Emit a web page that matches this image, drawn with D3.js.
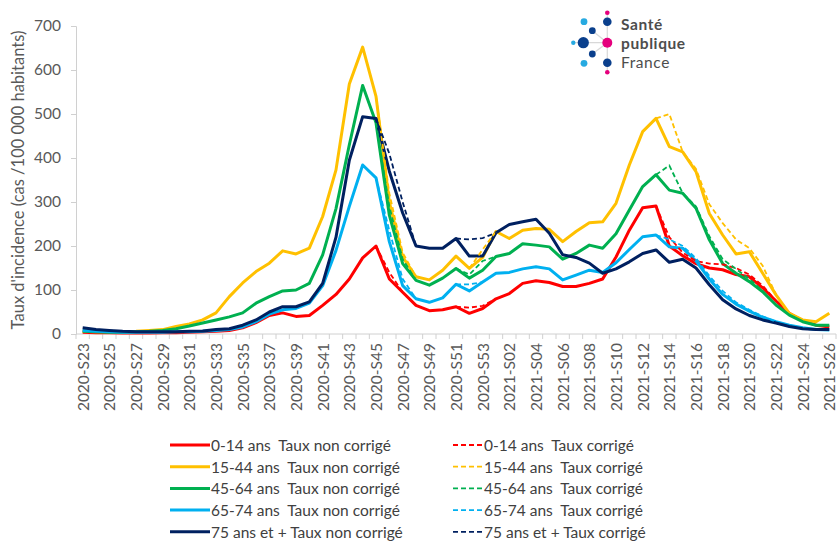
<!DOCTYPE html>
<html><head><meta charset="utf-8">
<script src="https://cdn.jsdelivr.net/npm/d3@7"></script>
<style>
body{margin:0;background:#fff;}
svg{display:block;font-family:Lato,'Open Sans',sans-serif;}
</style>
</head><body>
<svg id="chart" width="837" height="547"></svg>
<script>
const N = null;
const weeks = ["2020-S23","2020-S24","2020-S25","2020-S26","2020-S27","2020-S28","2020-S29","2020-S30","2020-S31","2020-S32",
"2020-S33","2020-S34","2020-S35","2020-S36","2020-S37","2020-S38","2020-S39","2020-S40","2020-S41","2020-S42",
"2020-S43","2020-S44","2020-S45","2020-S46","2020-S47","2020-S48","2020-S49","2020-S50","2020-S51","2020-S52",
"2020-S53","2021-S01","2021-S02","2021-S03","2021-S04","2021-S05","2021-S06","2021-S07","2021-S08","2021-S09",
"2021-S10","2021-S11","2021-S12","2021-S13","2021-S14","2021-S15","2021-S16","2021-S17","2021-S18","2021-S19",
"2021-S20","2021-S21","2021-S22","2021-S23","2021-S24","2021-S25","2021-S26"];
const yTicks = [0,100,200,300,400,500,600,700];

// Taux non corrigé
const red = [4,3,3,2,2,2,3,3,4,5, 6,8,14,26,42,48,40,42,65,90, 125,173,200,125,95,65,53,55,62,47, 58,80,92,115,121,117,108,108,115,125, 175,236,287,291,200,178,160,150,146,135, 130,105,75,47,30,20,16];
const yellow = [6,5,5,5,6,8,10,17,23,32, 48,85,116,142,161,189,182,195,267,373, 568,652,540,300,175,130,123,145,177,149, 174,233,217,236,240,238,210,233,253,255, 297,384,460,490,426,414,369,274,225,182, 187,138,89,47,32,28,47];
const green = [6,5,4,4,5,6,8,12,18,25, 32,39,48,70,85,98,100,115,180,285, 430,565,480,270,160,122,111,127,149,127, 145,176,183,205,202,198,170,183,202,195, 228,282,335,362,327,320,286,214,160,138, 119,96,66,43,28,20,20];
const cyan = [8,6,5,4,4,4,4,5,5,6, 8,10,16,28,45,55,58,70,110,190, 290,384,355,210,110,80,72,82,113,98, 118,138,140,148,153,148,123,134,145,140, 162,192,221,225,198,195,166,125,90,68, 52,38,28,20,14,10,9];
const navy = [14,10,8,6,5,5,5,5,6,7, 10,12,20,32,50,62,62,73,115,220, 395,494,490,370,275,200,195,195,217,177, 177,230,249,255,261,229,180,174,161,138, 148,164,183,191,163,170,150,112,78,57, 42,32,25,17,12,10,10];

// Taux corrigé (only where it differs)
const redCorr = [N,N,N,N,N,N,N,N,N,N, N,N,N,N,N,N,N,N,N,N, N,N,200,140,95,N,N,N,62,60, 64,80,N,N,N,N,N,N,N,N, N,N,N,291,220,185,166,160,158,150, 135,110,75,N,N,N,N];
const yellowCorr = [N,N,N,N,N,N,N,N,N,N, N,N,N,N,N,N,N,N,N,N, N,N,540,320,185,130,N,N,N,149, 192,233,N,N,N,N,N,N,N,N, N,N,N,490,500,414,375,295,252,215, 195,155,89,N,N,N,N];
const greenCorr = [N,N,N,N,N,N,N,N,N,N, N,N,N,N,N,N,N,N,N,N, N,N,480,290,170,122,N,N,149,135, 166,176,N,N,N,N,N,N,N,N, N,N,N,362,383,320,290,222,170,148, 125,98,66,N,N,N,N];
const cyanCorr = [N,N,N,N,N,N,N,N,N,N, N,N,N,N,N,N,N,N,N,N, N,N,355,235,125,80,N,N,113,113, 118,N,N,N,N,N,N,N,N,N, N,N,N,225,215,200,172,132,98,72, 55,40,28,N,N,N,N];
const navyCorr = [N,N,N,N,N,N,N,N,N,N, N,N,N,N,N,N,N,N,N,N, N,N,490,410,300,200,N,N,217,215, 218,230,N,N,N,N,N,N,N,N, N,N,N,N,N,N,N,N,N,N, N,N,N,N,N,N,N];

const groups = ["0-14 ans ", "15-44 ans ", "45-64 ans ", "65-74 ans ", "75 ans et +"];
const colors = ["#FF0000", "#FFC000", "#00B050", "#00B0F0", "#002060"];
const solidData = [red, yellow, green, cyan, navy];
const corrData = [redCorr, yellowCorr, greenCorr, cyanCorr, navyCorr];

const svg = d3.select("#chart");
const x = d3.scalePoint().domain(weeks).range([76, 836]).padding(0.5);
const y = d3.scaleLinear().domain([0, 700]).range([334, 26]);
const step = x.step();

// Y axis
const yAxis = svg.append("g").attr("transform", "translate(76,0)")
  .call(d3.axisLeft(y).tickValues(yTicks).tickSize(5).tickPadding(10));
yAxis.select(".domain").attr("stroke", "#d0d0d0");
yAxis.selectAll(".tick line").attr("stroke", "#d0d0d0");
yAxis.selectAll(".tick text").attr("fill", "#595959").style("font-size", "15.5px").style("font-family", "Lato");

// X axis line + ticks at category boundaries
const xg = svg.append("g");
xg.append("line").attr("x1", 76).attr("x2", 836).attr("y1", y(0)).attr("y2", y(0)).attr("stroke", "#d0d0d0");
xg.selectAll("line.tk").data(d3.range(weeks.length + 1)).enter().append("line")
  .attr("class", "tk")
  .attr("x1", d => 76 + d * step).attr("x2", d => 76 + d * step)
  .attr("y1", y(0)).attr("y2", y(0) + 5).attr("stroke", "#d0d0d0");
xg.selectAll("text").data(weeks.filter((w, i) => i % 2 === 0)).enter().append("text")
  .attr("transform", d => `translate(${x(d)},${y(0) + 9}) rotate(-90)`)
  .attr("text-anchor", "end").attr("dominant-baseline", "central")
  .attr("fill", "#595959").style("font-size", "15.5px")
  .text(d => d);

// Y title
svg.append("text").attr("transform", "translate(18,180) rotate(-90)")
  .attr("text-anchor", "middle").attr("dominant-baseline", "central")
  .attr("fill", "#595959").style("font-size", "16.5px")
  .text("Taux d'incidence (cas /100 000 habitants)");

// lines
const line = d3.line().defined(d => d.v !== null).x(d => x(d.w)).y(d => y(d.v));
const lineG = svg.append("g");
solidData.forEach((arr, k) => {
  lineG.append("path").datum(arr.map((v, i) => ({w: weeks[i], v})))
    .attr("d", line).attr("fill", "none").attr("stroke", colors[k])
    .attr("stroke-width", 3).attr("stroke-linejoin", "round");
});
corrData.forEach((arr, k) => {
  lineG.append("path").datum(arr.map((v, i) => ({w: weeks[i], v})))
    .attr("d", line).attr("fill", "none").attr("stroke", colors[k])
    .attr("stroke-width", 1.8).attr("stroke-dasharray", "5,3");
});

// Legend
const lg = svg.append("g").style("font-size", "15.5px");
groups.forEach((g, k) => {
  const ly = 445 + k * 21.7;
  lg.append("line").attr("x1", 170).attr("x2", 210).attr("y1", ly).attr("y2", ly)
    .attr("stroke", colors[k]).attr("stroke-width", 3);
  lg.append("text").attr("x", 211).attr("y", ly).attr("dominant-baseline", "central")
    .attr("fill", "#404040").style("white-space", "pre").text(g + " Taux non corrigé");
  lg.append("line").attr("x1", 453).attr("x2", 483).attr("y1", ly).attr("y2", ly)
    .attr("stroke", colors[k]).attr("stroke-width", 1.8).attr("stroke-dasharray", "5,3");
  lg.append("text").attr("x", 484).attr("y", ly).attr("dominant-baseline", "central")
    .attr("fill", "#404040").style("white-space", "pre").text(g + " Taux corrigé");
});

// Logo
const logo = svg.append("g");
const cx = 607.3, cy = 42.7;
const dots = [
  [607.3, 12.7, 2.3, "#E5007D"], [607.3, 21.7, 4.3, "#0A3F8C"], [584, 21.7, 3.4, "#27AAE1"],
  [592.3, 30.7, 3.4, "#0A3F8C"], [573.3, 42.7, 2.2, "#27AAE1"], [583.3, 42.7, 5.6, "#0A3F8C"],
  [607.3, 42.7, 5, "#E5007D"], [592.3, 54, 3.4, "#0A3F8C"], [584, 63.3, 3.4, "#27AAE1"],
  [607.3, 62.7, 4.3, "#0A3F8C"], [607.3, 72.3, 2.3, "#E5007D"]
];
logo.append("line").attr("x1", cx).attr("x2", cx).attr("y1", 13).attr("y2", 72).attr("stroke", "#d8d8d8").attr("stroke-width", 1.2);
logo.append("line").attr("x1", 573).attr("x2", cx).attr("y1", cy).attr("y2", cy).attr("stroke", "#d8d8d8").attr("stroke-width", 1.2);
[[592.3, 30.7], [592.3, 54]].forEach(p => logo.append("line").attr("x1", cx).attr("y1", cy).attr("x2", p[0]).attr("y2", p[1]).attr("stroke", "#d8d8d8").attr("stroke-width", 1.2));
dots.forEach(d => logo.append("circle").attr("cx", d[0]).attr("cy", d[1]).attr("r", d[2]).attr("fill", d[3]));
const logoLines = [["Santé", "bold", 30], ["publique", "bold", 49], ["France", "normal", 68]];
logoLines.forEach(l => logo.append("text").attr("x", 621).attr("y", l[2])
  .attr("fill", "#4d4d4d").style("font-size", "15.5px").style("font-weight", l[1])
  .style("letter-spacing", "0.6px").text(l[0]));
</script>
</body></html>
